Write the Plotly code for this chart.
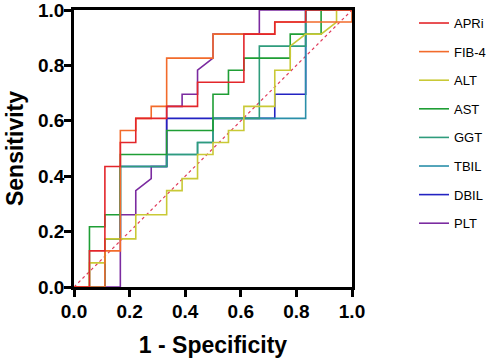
import plotly.graph_objects as go

# ROC curve points (1 - specificity, sensitivity)
apri_x = [0, 0.0556, 0.0556, 0.1111, 0.1111, 0.1667, 0.1667, 0.2222, 0.2222, 0.3333, 0.3333, 0.4444, 0.4444, 0.6111, 0.6111, 0.7222, 0.7222, 0.8333, 0.8333, 1]
apri_y = [0, 0, 0.1304, 0.1304, 0.4348, 0.4348, 0.5217, 0.5217, 0.6087, 0.6087, 0.6522, 0.6522, 0.7391, 0.7391, 0.9130, 0.9130, 0.9565, 0.9565, 1, 1]

fib4_x = [0, 0.1111, 0.1111, 0.1667, 0.1667, 0.2222, 0.2222, 0.2778, 0.2778, 0.3333, 0.3333, 0.5, 0.5, 0.7222, 0.7222, 1, 1]
fib4_y = [0, 0, 0.1304, 0.1304, 0.5652, 0.5652, 0.6087, 0.6087, 0.6522, 0.6522, 0.8261, 0.8261, 0.9130, 0.9130, 0.9565, 0.9565, 1]

alt_x = [0, 0.0556, 0.0556, 0.1111, 0.1111, 0.2222, 0.2222, 0.3333, 0.3333, 0.3889, 0.3889, 0.4444, 0.4444, 0.5, 0.5, 0.5556, 0.5556, 0.6111, 0.6111, 0.7222, 0.7222, 0.7778, 0.7778, 0.8333, 0.8889, 0.9444, 0.9444, 1]
alt_y = [0, 0, 0.0870, 0.0870, 0.1739, 0.1739, 0.2609, 0.2609, 0.3478, 0.3478, 0.3913, 0.3913, 0.4783, 0.4783, 0.5217, 0.5217, 0.5652, 0.5652, 0.6522, 0.6522, 0.7826, 0.7826, 0.8696, 0.9130, 0.9130, 0.9565, 1, 1]

ast_x = [0, 0.0556, 0.0556, 0.1111, 0.1111, 0.1667, 0.1667, 0.3333, 0.3333, 0.5, 0.5, 0.5556, 0.5556, 0.6111, 0.6111, 0.7778, 0.7778, 0.8889, 0.8889, 1]
ast_y = [0, 0, 0.2174, 0.2174, 0.2609, 0.2609, 0.4783, 0.4783, 0.5652, 0.5652, 0.6957, 0.6957, 0.7826, 0.7826, 0.8261, 0.8261, 0.9130, 0.9130, 1, 1]

ggt_x = [0, 0.1111, 0.1111, 0.1667, 0.1667, 0.3333, 0.3333, 0.4444, 0.4444, 0.5, 0.5, 0.6667, 0.6667, 0.8333, 0.8333, 1]
ggt_y = [0, 0, 0.1739, 0.1739, 0.4348, 0.4348, 0.4783, 0.4783, 0.5217, 0.5217, 0.6087, 0.6087, 0.8696, 0.8696, 1, 1]

tbil_x = [0, 0.1111, 0.1111, 0.1667, 0.1667, 0.3333, 0.3333, 0.4444, 0.4444, 0.5, 0.5, 0.8333, 0.8333, 1]
tbil_y = [0, 0, 0.1739, 0.1739, 0.4348, 0.4348, 0.4783, 0.4783, 0.5217, 0.5217, 0.6087, 0.6087, 1, 1]

dbil_x = [0, 0.1111, 0.1111, 0.1667, 0.1667, 0.3333, 0.3333, 0.7222, 0.7222, 0.8333, 0.8333, 1]
dbil_y = [0, 0, 0.1739, 0.1739, 0.4348, 0.4348, 0.6087, 0.6087, 0.6957, 0.6957, 1, 1]

plt_x = [0, 0.1667, 0.1667, 0.2222, 0.2222, 0.2778, 0.2778, 0.3333, 0.3333, 0.3889, 0.3889, 0.4444, 0.4444, 0.5, 0.5, 0.6667, 0.6667, 1]
plt_y = [0, 0, 0.2609, 0.2609, 0.3478, 0.3913, 0.4348, 0.4348, 0.6522, 0.6522, 0.6957, 0.6957, 0.7826, 0.8261, 0.9130, 0.9130, 1, 1]

ref_x = [0, 1]
ref_y = [0, 1]

series_names = ["APRi", "FIB-4", "ALT", "AST", "GGT", "TBIL", "DBIL", "PLT"]
series_x = [apri_x, fib4_x, alt_x, ast_x, ggt_x, tbil_x, dbil_x, plt_x]
series_y = [apri_y, fib4_y, alt_y, ast_y, ggt_y, tbil_y, dbil_y, plt_y]
series_colors = ["#e3262b", "#f26b2b", "#c9c936", "#1f9e35", "#2f9c7c", "#2a8fa9", "#2323c2", "#7b2ba0"]

tick_vals = [0.0, 0.2, 0.4, 0.6, 0.8, 1.0]
tick_text = ["0.0", "0.2", "0.4", "0.6", "0.8", "1.0"]

fig = go.Figure()

fig.add_trace(go.Scatter(x=ref_x, y=ref_y, mode="lines", showlegend=False,
                         line=dict(color="#e03c5c", width=1.2, dash="dot"), hoverinfo="skip"))

# draw in reverse so the first series sits on top; legendrank keeps legend order
for i in reversed(range(len(series_names))):
    fig.add_trace(go.Scatter(
        x=series_x[i], y=series_y[i], mode="lines", name=series_names[i],
        legendgroup=series_names[i], legendrank=i + 1,
        line=dict(color=series_colors[i], width=1.6)))

axis_common = dict(
    range=[0, 1], tickvals=tick_vals, ticktext=tick_text,
    showgrid=False, zeroline=False, showline=True, linecolor="black",
    linewidth=2.5, mirror=True, ticks="outside", ticklen=7, tickwidth=2.5,
    tickcolor="black", automargin=False, ticklabeloverflow="allow",
    tickfont=dict(family="Liberation Sans, Arial", size=19, color="black", weight="bold"),
)

title_font = dict(family="Liberation Sans, Arial", size=23, color="black", weight="bold")

fig.update_layout(
    width=500, height=360,
    margin=dict(l=74, r=148, t=10, b=73, autoexpand=False),
    paper_bgcolor="white", plot_bgcolor="white",
    xaxis=dict(**axis_common, ticklabelstandoff=-2,
               title=dict(text="1 - Specificity", standoff=17, font=title_font)),
    yaxis=dict(**axis_common, ticklabelstandoff=-4,
               title=dict(text="Sensitivity", standoff=8, font=title_font)),
    legend=dict(x=1.223, xanchor="left", y=1.007, yanchor="top",
                traceorder="grouped", tracegroupgap=8.7, maxheight=340,
                font=dict(family="Liberation Sans, Arial", size=13, color="black"),
                bgcolor="rgba(0,0,0,0)", itemwidth=30),
    showlegend=True,
)

fig.write_html("out.html", config={"displayModeBar": False},
               post_script="document.body.style.margin='0px';")
